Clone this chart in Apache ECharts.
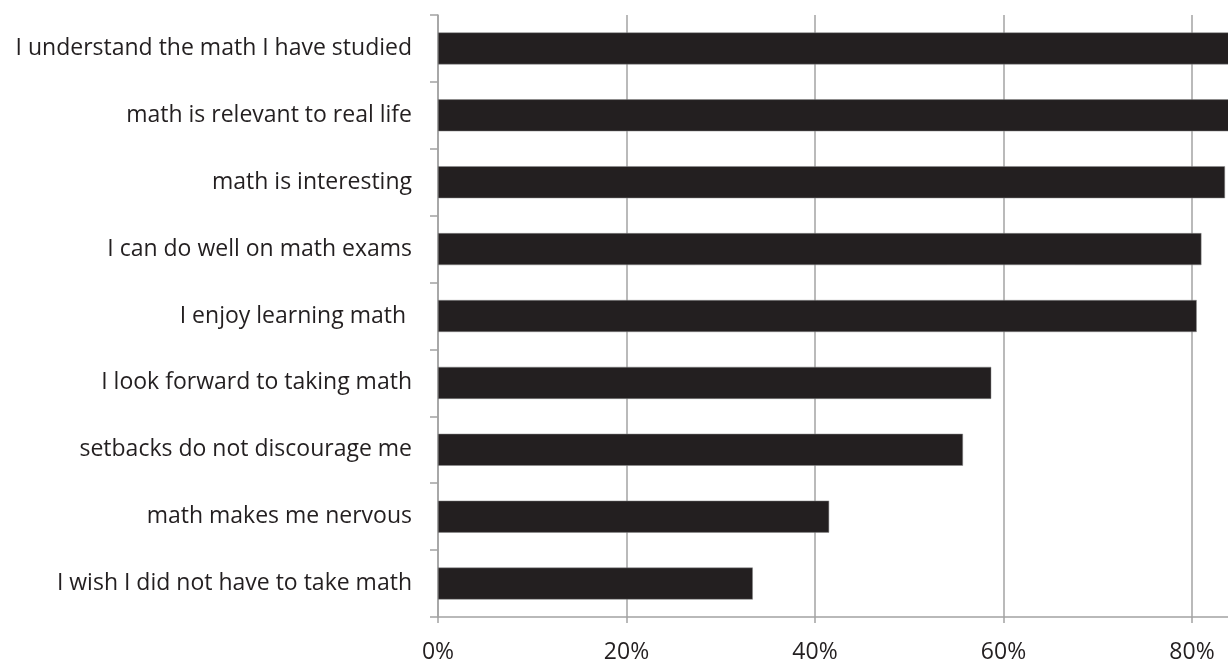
<!DOCTYPE html>
<html>
<head>
<meta charset="utf-8">
<script src="https://cdn.jsdelivr.net/npm/echarts@6/dist/echarts.min.js"></script>
<style>
html, body { margin: 0; padding: 0; background: #fff; }
#chart { width: 1228px; height: 662px; }
</style>
</head>
<body>
<div id="chart"></div>
<script>
// survey statements, top to bottom
var statements = [
	"I understand the math I have studied",
	"math is relevant to real life",
	"math is interesting",
	"I can do well on math exams",
	"I enjoy learning math ",
	"I look forward to taking math",
	"setbacks do not discourage me",
	"math makes me nervous",
	"I wish I did not have to take math"
]
// percent agreeing (first two run past the cropped edge)
var agreePct = [86, 85, 83.5, 81, 80.5, 58.7, 55.7, 41.5, 33.4]
var xTicks = [0, 20, 40, 60, 80, 100]

var ink = "#231f20"
var gridGrey = "#a3a3a3"

var myChart = echarts.init(document.getElementById("chart"))
var option = {
	animation: false,
	textStyle: { fontFamily: "Open Sans" },
	grid: {
		left: 438,
		top: 15,
		bottom: 45,
		right: -152.5, // 0..100% -> the 100% end falls off the canvas like the original crop
		outerBoundsMode: "none",
		containLabel: false
	},
	xAxis: {
		type: "value",
		min: xTicks[0],
		max: xTicks[xTicks.length - 1],
		interval: 20,
		axisLine: { show: true, lineStyle: { color: gridGrey, width: 1.5 } },
		axisTick: { show: true, length: 6, lineStyle: { color: gridGrey, width: 1.5 } },
		splitLine: { show: true, lineStyle: { color: gridGrey, width: 1.5 } },
		axisLabel: {
			formatter: "{value}%",
			color: ink,
			fontSize: 23,
			margin: 24
		}
	},
	yAxis: {
		type: "category",
		inverse: true,
		data: statements,
		axisLine: { show: true, lineStyle: { color: gridGrey, width: 1.5 } },
		axisTick: { show: true, length: 8, lineStyle: { color: gridGrey, width: 1.5 } },
		axisLabel: {
			color: ink,
			fontSize: 23,
			margin: 26
		}
	},
	series: [
		{
			type: "bar",
			data: agreePct,
			barWidth: 32,
			itemStyle: {
				color: ink,
				borderColor: "#8a8a8a",
				borderWidth: 0.5
			}
		}
	]
}
myChart.setOption(option)
</script>
</body>
</html>
